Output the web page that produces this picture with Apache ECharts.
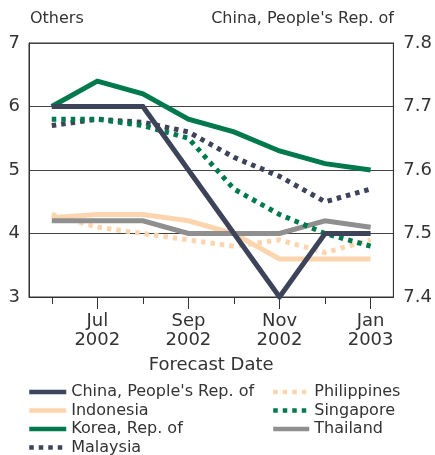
<!DOCTYPE html>
<html>
<head>
<meta charset="utf-8">
<script src="https://cdn.jsdelivr.net/npm/echarts@6/dist/echarts.min.js"></script>
<style>
html,body{margin:0;padding:0;background:#fff;}
#chart{width:435px;height:455px;}
</style>
</head>
<body>
<div id="chart"></div>
<script>
const categories = ['Jun 2002','Jul 2002','Aug 2002','Sep 2002','Oct 2002','Nov 2002','Dec 2002','Jan 2003'];
const china       = [7.7, 7.7, 7.7, 7.6, 7.5, 7.4, 7.5, 7.5];
const indonesia   = [4.25, 4.3, 4.3, 4.2, 4.0, 3.6, 3.6, 3.6];
const korea       = [6.0, 6.4, 6.2, 5.8, 5.6, 5.3, 5.1, 5.0];
const malaysia    = [5.7, 5.8, 5.75, 5.6, 5.2, 4.9, 4.5, 4.7];
const philippines = [4.3, 4.1, 4.0, 3.9, 3.8, 3.9, 3.7, 3.9];
const singapore   = [5.8, 5.8, 5.7, 5.5, 4.7, 4.3, 4.0, 3.8];
const thailand    = [4.2, 4.2, 4.2, 4.0, 4.0, 4.0, 4.2, 4.1];
const leftTicks = {min: 3, max: 7, interval: 1};
const rightTicks = {min: 7.4, max: 7.8, interval: 0.1};

const NAVY = '#3d4459', GREEN = '#007a4d', PEACH = '#fcd5ae', GRAY = '#8f8f8f';
const FONT = 'DejaVu Sans';
const DOT = [4.5, 5];

function s(name, data, color, dashed, yIdx) {
  return {
    name, type: 'line', data, yAxisIndex: yIdx || 0, xAxisIndex: 0,
    symbol: 'none', showSymbol: false, animation: false,
    lineStyle: {color, width: 5, type: dashed ? DOT : 'solid', cap: 'butt', join: 'miter'},
    itemStyle: {color}
  };
}

const legendCommon = {
  orient: 'vertical', top: 384, height: 80, padding: 0, itemGap: 2.5, itemHeight: 14,
  itemStyle: {color: 'rgba(0,0,0,0)', borderWidth: 0, opacity: 0},
  lineStyle: {width: 4.5},
  textStyle: {fontFamily: FONT, fontSize: 16, color: '#333'}
};

const chart = echarts.init(document.getElementById('chart'), null, {renderer: 'canvas'});
chart.setOption({
  animation: false,
  backgroundColor: '#fff',
  textStyle: {fontFamily: FONT},
  title: [
    {text: 'Others', left: 30, top: 11, padding: 0,
     textStyle: {fontFamily: FONT, fontSize: 16, fontWeight: 'normal', color: '#333'}},
    {text: "China, People's Rep. of", right: 41, top: 11, padding: 0,
     textStyle: {fontFamily: FONT, fontSize: 16, fontWeight: 'normal', color: '#333'}}
  ],
  grid: {left: 29, right: 41, top: 43, bottom: 158, show: true, borderColor: '#333', borderWidth: 1, containLabel: false},
  legend: [
    Object.assign({}, legendCommon, {left: 27, itemWidth: 37,
      data: ["China, People's Rep. of", 'Indonesia', 'Korea, Rep. of', 'Malaysia']}),
    Object.assign({}, legendCommon, {left: 271, itemWidth: 36,
      data: ['Philippines', 'Singapore', 'Thailand']})
  ],
  xAxis: [
    {type: 'category', data: categories, boundaryGap: true, position: 'bottom',
     name: 'Forecast Date', nameLocation: 'middle', nameGap: 59,
     nameTextStyle: {fontFamily: FONT, fontSize: 18, color: '#333'},
     axisLine: {show: true, lineStyle: {color: '#333', width: 1}},
     axisTick: {show: true, alignWithLabel: true, length: 7, interval: 0, lineStyle: {color: '#333'}},
     axisLabel: {show: false}, splitLine: {show: false}},
    {type: 'category', data: categories, boundaryGap: true, position: 'bottom', offset: 0,
     axisLine: {show: false},
     axisTick: {show: true, alignWithLabel: true, length: 12, interval: (i) => i % 2 === 1, lineStyle: {color: '#333'}},
     axisLabel: {show: true, interval: (i) => i % 2 === 1, margin: 15, fontFamily: FONT, fontSize: 18, lineHeight: 19, color: '#333',
       formatter: (v) => v.replace(' ', '\n')},
     splitLine: {show: false}}
  ],
  yAxis: [
    {type: 'value', position: 'left', min: leftTicks.min, max: leftTicks.max, interval: leftTicks.interval,
     axisLine: {show: true, lineStyle: {color: '#333'}}, axisTick: {show: false},
     axisLabel: {margin: 9, fontFamily: FONT, fontSize: 18, color: '#333'},
     splitLine: {show: true, lineStyle: {color: '#444', width: 1}}},
    {type: 'value', position: 'right', min: rightTicks.min, max: rightTicks.max, interval: rightTicks.interval,
     axisLine: {show: true, lineStyle: {color: '#333'}}, axisTick: {show: false},
     axisLabel: {margin: 10, fontFamily: FONT, fontSize: 18, color: '#333', formatter: (v) => v.toFixed(1)},
     splitLine: {show: false}}
  ],
  series: [
    s('Indonesia', indonesia, PEACH, false),
    s('Philippines', philippines, PEACH, true),
    s('Thailand', thailand, GRAY, false),
    s('Korea, Rep. of', korea, GREEN, false),
    s('Malaysia', malaysia, NAVY, true),
    s('Singapore', singapore, GREEN, true),
    s("China, People's Rep. of", china, NAVY, false, 1)
  ]
});
</script>
</body>
</html>
